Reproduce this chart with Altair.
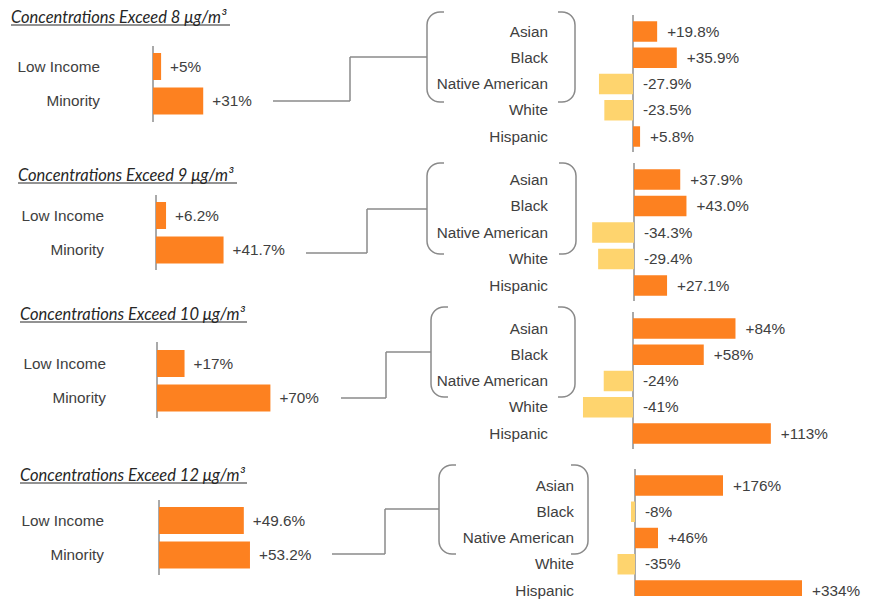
import altair as alt
import pandas as pd

# ---------------- data ----------------
thresholds = ["8", "9", "10", "12"]
group_cats = ["Low Income", "Minority"]
low_income = [5, 6.2, 17, 49.6]
minority = [31, 41.7, 70, 53.2]
race_cats = ["Asian", "Black", "Native American", "White", "Hispanic"]
asian = [19.8, 37.9, 84, 176]
black = [35.9, 43.0, 58, -8]
native_american = [-27.9, -34.3, -24, 46]
white = [-23.5, -29.4, -41, -35]
hispanic = [5.8, 27.1, 113, 334]
left_decimals = [0, 1, 0, 1]
right_decimals = [1, 1, 0, 0]

# ---------------- style ----------------
ORANGE = "#FD8120"
PALE = "#FED46E"
TEXT = "#404040"
TITLE_C = "#262626"
LINE = "#8A8A8A"
FONT = "Liberation Sans"
FSIZE = 15.3
TFONT = "Lato"
OX, OY = 8, 8  # page margin
W, H = 853, 588

# layout of each row in page pixels
rows = [
    dict(tx=11, tb=23, te=230,
         lz=153, lk=1.62, lc0=66.5, llab=100, lline=(46, 122),
         rz=633, rk=1.22, rc0=31.5, rp=26.25, rlab=548, rline=(15, 152),
         br=(427, 575, 12, 102), conn=(273, 350, 427, 101, 57)),
    dict(tx=18, tb=181, te=237,
         lz=156, lk=1.62, lc0=215.5, llab=104, lline=(195, 270),
         rz=634, rk=1.22, rc0=179.5, rp=26.5, rlab=548, rline=(163, 301),
         br=(427, 576, 163, 254), conn=(306, 367, 427, 253, 209)),
    dict(tx=20, tb=320, te=247,
         lz=157, lk=1.62, lc0=363.5, llab=106, lline=(342, 418),
         rz=633, rk=1.22, rc0=328.5, rp=26.25, rlab=548, rline=(312, 449),
         br=(431, 575, 307, 397), conn=(341, 386, 431, 398, 352)),
    dict(tx=20, tb=481, te=247,
         lz=159, lk=1.71, lc0=520.5, llab=104, lline=(500, 575),
         rz=635, rk=0.5, rc0=485.5, rp=26.25, rlab=574, rline=(469, 596),
         br=(439, 588, 465, 554), conn=(332, 385, 439, 554, 509)),
]
LPITCH = 34.5

one = pd.DataFrame({"d": [0]})


def fmt(v, d):
    return f"{v:+.{d}f}%"


layers = []
for i, L in enumerate(rows):
    lvals = [low_income[i], minority[i]]
    rvals = [asian[i], black[i], native_american[i], white[i], hispanic[i]]
    ldf = pd.DataFrame({"cat": group_cats, "v": lvals,
                        "lab": [fmt(v, left_decimals[i]) for v in lvals]})
    ldf["lx"] = ldf["v"].clip(lower=0)
    rdf = pd.DataFrame({"cat": race_cats, "v": rvals,
                        "lab": [fmt(v, right_decimals[i]) for v in rvals]})
    rdf["lx"] = rdf["v"].clip(lower=0)

    # scales
    lx_scale = alt.Scale(domain=[0, 100],
                         range=[L["lz"] - OX, L["lz"] - OX + 100 * L["lk"]])
    ly_scale = alt.Scale(domain=group_cats,
                         range=[L["lc0"] - LPITCH / 2 - OY, L["lc0"] + LPITCH * 1.5 - OY],
                         paddingInner=0.217, paddingOuter=0.1085)
    rx_scale = alt.Scale(domain=[0, 100],
                         range=[L["rz"] - OX, L["rz"] - OX + 100 * L["rk"]])
    ry_scale = alt.Scale(domain=race_cats,
                         range=[L["rc0"] - L["rp"] / 2 - OY, L["rc0"] + L["rp"] * 4.5 - OY],
                         paddingInner=0.22, paddingOuter=0.11)

    bl, brr, bt, bb = L["br"]
    # bracket (rounded rectangle whose top/bottom middle gets covered)
    layers.append(alt.Chart(one).mark_rect(
        cornerRadius=13, fillOpacity=0, stroke=LINE, strokeWidth=1.5).encode(
        x=alt.value(bl - OX), x2=alt.value(brr - OX),
        y=alt.value(bt - OY), y2=alt.value(bb - OY)))
    layers.append(alt.Chart(one).mark_rect(fill="white", strokeWidth=0).encode(
        x=alt.value(bl + 17 - OX), x2=alt.value(brr - 17 - OX),
        y=alt.value(bt - 3 - OY), y2=alt.value(bb + 3 - OY)))

    # connector
    x0, xm, x1, ya, yb = L["conn"]
    layers.append(alt.Chart(one).mark_rule(color=LINE, strokeWidth=1.5).encode(
        x=alt.value(x0 - OX), x2=alt.value(xm - OX), y=alt.value(ya - OY)))
    layers.append(alt.Chart(one).mark_rule(color=LINE, strokeWidth=1.5).encode(
        x=alt.value(xm - OX), y=alt.value(yb - OY), y2=alt.value(ya - OY)))
    layers.append(alt.Chart(one).mark_rule(color=LINE, strokeWidth=1.5).encode(
        x=alt.value(xm - OX), x2=alt.value(x1 - OX), y=alt.value(yb - OY)))

    # zero lines
    layers.append(alt.Chart(one).mark_rule(color="#555555", strokeWidth=1).encode(
        x=alt.X("d:Q", scale=lx_scale, axis=None),
        y=alt.value(L["lline"][0] - OY), y2=alt.value(L["lline"][1] - OY)))
    layers.append(alt.Chart(one).mark_rule(color="#555555", strokeWidth=1, clip=True).encode(
        x=alt.X("d:Q", scale=rx_scale, axis=None),
        y=alt.value(L["rline"][0] - OY), y2=alt.value(L["rline"][1] - OY)))

    # left bars
    layers.append(alt.Chart(ldf).mark_bar(color=ORANGE).encode(
        x=alt.X("v:Q", scale=lx_scale, axis=None),
        x2=alt.datum(0),
        y=alt.Y("cat:N", scale=ly_scale, axis=None)))
    layers.append(alt.Chart(ldf).mark_text(
        align="left", baseline="middle", dx=9, font=FONT, fontSize=FSIZE, color=TEXT).encode(
        x=alt.X("lx:Q", scale=lx_scale, axis=None),
        y=alt.Y("cat:N", scale=ly_scale, axis=None),
        text="lab:N"))
    layers.append(alt.Chart(ldf).mark_text(
        align="right", baseline="middle", font=FONT, fontSize=FSIZE, color=TEXT).encode(
        x=alt.value(L["llab"] - OX),
        y=alt.Y("cat:N", scale=ly_scale, axis=None),
        text="cat:N"))

    # right bars
    layers.append(alt.Chart(rdf).mark_bar(clip=True).encode(
        x=alt.X("v:Q", scale=rx_scale, axis=None),
        x2=alt.datum(0),
        y=alt.Y("cat:N", scale=ry_scale, axis=None),
        color=alt.condition("datum.v < 0", alt.value(PALE), alt.value(ORANGE))))
    layers.append(alt.Chart(rdf).mark_text(
        align="left", baseline="middle", dx=10, font=FONT, fontSize=FSIZE, color=TEXT,
        clip=True).encode(
        x=alt.X("lx:Q", scale=rx_scale, axis=None),
        y=alt.Y("cat:N", scale=ry_scale, axis=None),
        text="lab:N"))
    layers.append(alt.Chart(rdf).mark_text(
        align="right", baseline="middle", font=FONT, fontSize=FSIZE, color=TEXT).encode(
        x=alt.value(L["rlab"] - OX),
        y=alt.Y("cat:N", scale=ry_scale, axis=None),
        text="cat:N"))

    # title + underline
    layers.append(alt.Chart(one).mark_text(
        align="left", baseline="alphabetic", font=TFONT, fontStyle="italic",
        fontSize=16.5, color=TITLE_C).encode(
        x=alt.value(L["tx"] - OX), y=alt.value(L["tb"] - OY),
        text=alt.value(f"Concentrations Exceed {thresholds[i]} \u03bcg/m\u00b3")))
    layers.append(alt.Chart(one).mark_rule(color=TITLE_C, strokeWidth=1).encode(
        x=alt.value(L["tx"] - OX), x2=alt.value(L["te"] - OX),
        y=alt.value(L["tb"] + 2 - OY)))

chart = alt.layer(*layers).resolve_scale(
    x="independent", y="independent"
).properties(width=W, height=H, padding=0).configure_view(stroke=None)

chart.save("out.html", embed_options={"renderer": "svg", "actions": False})
